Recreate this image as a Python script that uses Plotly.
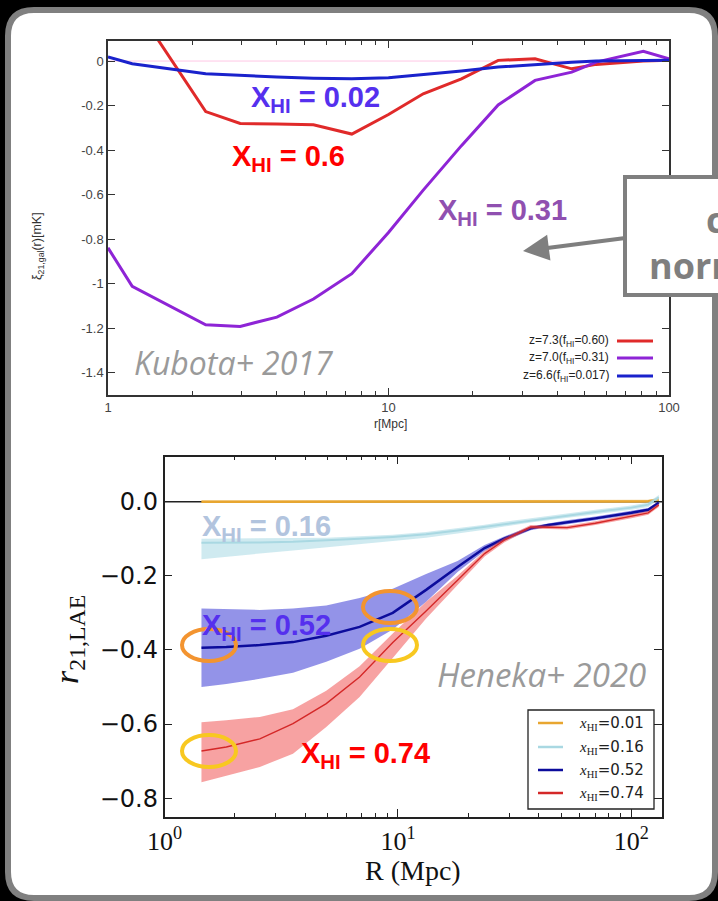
import plotly.graph_objects as go

W, H = 718, 901

# ---------------- Kubota+ 2017 : 21cm - LAE cross-correlation ----------------
r_kubota = [1.0, 1.22, 2.23, 2.96, 4.0, 5.4, 7.4, 10.0, 13.3, 18.2, 24.6, 33.3, 45.0, 55.0, 81.0, 100.0]
xi_z73 = [0.55, 0.27, -0.227, -0.280, -0.283, -0.286, -0.328, -0.240, -0.147, -0.080, 0.003, 0.010, -0.035, -0.015, 0.0, 0.003]
xi_z70 = [-0.839, -1.012, -1.185, -1.192, -1.150, -1.069, -0.955, -0.770, -0.580, -0.380, -0.197, -0.087, -0.050, -0.005, 0.044, 0.010]
xi_z66 = [0.018, -0.012, -0.057, -0.065, -0.072, -0.077, -0.080, -0.075, -0.062, -0.045, -0.027, -0.015, -0.005, 0.0, 0.002, 0.003]
kubota_labels = ["z=7.3(f<sub>HI</sub>=0.60)", "z=7.0(f<sub>HI</sub>=0.31)", "z=6.6(f<sub>HI</sub>=0.017)"]
kubota_colors = ["#e02a2a", "#8e24d6", "#1a22cc"]
kubota_yticks = [0, -0.2, -0.4, -0.6, -0.8, -1.0, -1.2, -1.4]
kubota_yticktext = ["0", "-0.2", "-0.4", "-0.6", "-0.8", "-1", "-1.2", "-1.4"]

# ---------------- Heneka+ 2020 : r_21,LAE with scatter bands ----------------
R_heneka = [1.44, 1.84, 2.56, 3.55, 4.93, 6.85, 9.5, 13.2, 18.0, 23.5, 28.5, 37.0, 44.0, 53.0, 70.0, 100.0, 118.0, 131.0]
r21_x001 = [0.0, 0.0, 0.0, 0.0, 0.0, 0.0, 0.0, 0.0, 0.0, 0.0, 0.0, 0.0, 0.0, 0.0, 0.0, 0.0, 0.001, 0.005]
r21_x001_hi = [0.003, 0.003, 0.003, 0.003, 0.003, 0.003, 0.003, 0.003, 0.003, 0.003, 0.003, 0.003, 0.003, 0.003, 0.003, 0.003, 0.005, 0.010]
r21_x001_lo = [-0.003, -0.003, -0.003, -0.003, -0.003, -0.003, -0.003, -0.003, -0.003, -0.003, -0.003, -0.003, -0.003, -0.003, -0.003, -0.003, -0.002, 0.001]

r21_x016 = [-0.111, -0.111, -0.110, -0.108, -0.105, -0.100, -0.095, -0.088, -0.078, -0.068, -0.060, -0.050, -0.044, -0.038, -0.028, -0.016, -0.008, 0.012]
r21_x016_hi = [-0.100, -0.100, -0.099, -0.098, -0.097, -0.093, -0.089, -0.082, -0.072, -0.062, -0.054, -0.044, -0.038, -0.032, -0.022, -0.010, -0.002, 0.018]
r21_x016_lo = [-0.155, -0.148, -0.140, -0.132, -0.124, -0.115, -0.106, -0.097, -0.086, -0.076, -0.067, -0.056, -0.050, -0.044, -0.034, -0.022, -0.014, 0.006]

r21_x052 = [-0.394, -0.392, -0.387, -0.379, -0.362, -0.338, -0.300, -0.238, -0.176, -0.125, -0.100, -0.072, -0.063, -0.055, -0.045, -0.030, -0.022, -0.003]
r21_x052_hi = [-0.288, -0.290, -0.292, -0.288, -0.280, -0.260, -0.235, -0.195, -0.160, -0.117, -0.094, -0.067, -0.058, -0.050, -0.040, -0.025, -0.017, 0.002]
r21_x052_lo = [-0.500, -0.492, -0.478, -0.462, -0.432, -0.397, -0.345, -0.270, -0.190, -0.133, -0.106, -0.077, -0.068, -0.060, -0.050, -0.035, -0.027, -0.008]

r21_x074 = [-0.673, -0.662, -0.640, -0.599, -0.545, -0.473, -0.380, -0.295, -0.212, -0.140, -0.104, -0.068, -0.069, -0.070, -0.058, -0.040, -0.030, -0.009]
r21_x074_hi = [-0.595, -0.590, -0.581, -0.560, -0.510, -0.444, -0.356, -0.270, -0.200, -0.133, -0.098, -0.063, -0.064, -0.065, -0.053, -0.035, -0.025, -0.004]
r21_x074_lo = [-0.757, -0.740, -0.716, -0.680, -0.608, -0.527, -0.422, -0.315, -0.225, -0.148, -0.110, -0.073, -0.074, -0.075, -0.063, -0.045, -0.035, -0.014]

heneka_labels = ["=0.01", "=0.16", "=0.52", "=0.74"]
heneka_line_colors = ["#e8a630", "#a9d8e2", "#0c0c9c", "#d42828"]
heneka_band_colors = ["rgba(232,166,48,0.5)", "rgba(168,216,228,0.55)", "rgba(40,40,210,0.5)", "rgba(240,70,70,0.5)"]
heneka_yticks = [0.0, -0.2, -0.4, -0.6, -0.8]
heneka_yticktext = ["0.0", "\u22120.2", "\u22120.4", "\u22120.6", "\u22120.8"]


def px(x):
    return x / W


def py(y):
    return 1 - y / H


def pp(x, y):
    return f"{px(x):.5f},{py(y):.5f}"


fig = go.Figure()

# top panel curves
for yv, col in zip([xi_z73, xi_z70, xi_z66], kubota_colors):
    fig.add_trace(go.Scatter(x=r_kubota, y=yv, mode="lines", xaxis="x", yaxis="y",
                             line=dict(color=col, width=3), hoverinfo="skip"))

# bottom panel bands + mean lines
series = [(r21_x001, r21_x001_hi, r21_x001_lo), (r21_x016, r21_x016_hi, r21_x016_lo),
          (r21_x052, r21_x052_hi, r21_x052_lo), (r21_x074, r21_x074_hi, r21_x074_lo)]
widths = [2.5, 2.0, 2.5, 1.4]
for (m, hi, lo), lc, bc, lw in zip(series, heneka_line_colors, heneka_band_colors, widths):
    fig.add_trace(go.Scatter(x=R_heneka + R_heneka[::-1], y=hi + lo[::-1], fill="toself",
                             fillcolor=bc, line=dict(width=0), mode="lines",
                             xaxis="x2", yaxis="y2", hoverinfo="skip"))
    fig.add_trace(go.Scatter(x=R_heneka, y=m, mode="lines", xaxis="x2", yaxis="y2",
                             line=dict(color=lc, width=lw), hoverinfo="skip"))

minor_log = [v * d for d in (1, 10, 100) for v in range(2, 10)]

fig.update_layout(
    width=W, height=H, autosize=False,
    margin=dict(l=0, r=0, t=0, b=0, pad=0, autoexpand=False),
    paper_bgcolor="black", plot_bgcolor="rgba(0,0,0,0)", showlegend=False,
    xaxis=dict(domain=[px(108), px(669)], type="log", range=[0, 2], anchor="y",
               showline=True, linecolor="#333", linewidth=1.5, mirror="ticks",
               ticks="inside", ticklen=7, tickwidth=1, tickcolor="#333",
               tickvals=[1, 10, 100], ticktext=["1", "10", "100"],
               tickfont=dict(family="Liberation Sans", size=13, color="#444"),
               showgrid=False, zeroline=False,
               minor=dict(tickvals=minor_log, ticks="inside", ticklen=4, tickcolor="#333")),
    yaxis=dict(domain=[py(395), py(41)], range=[-1.5, 0.09], anchor="x",
               showline=True, linecolor="#333", linewidth=1.5, mirror="ticks",
               ticks="inside", ticklen=7, tickcolor="#333",
               tickvals=kubota_yticks, ticktext=kubota_yticktext,
               tickfont=dict(family="Liberation Sans", size=13, color="#444"),
               showgrid=False, zeroline=False),
    xaxis2=dict(domain=[px(164.5), px(662)], type="log", range=[0, 2.131], anchor="y2",
                showline=True, linecolor="#222", linewidth=1.5, mirror="ticks",
                ticks="inside", ticklen=8, tickcolor="#222",
                tickvals=[1, 10, 100], ticktext=["10<sup>0</sup>", "10<sup>1</sup>", "10<sup>2</sup>"],
                tickfont=dict(family="Liberation Serif", size=26, color="#111"),
                showgrid=False, zeroline=False,
                minor=dict(tickvals=minor_log, ticks="inside", ticklen=4, tickcolor="#222")),
    yaxis2=dict(domain=[py(817), py(456.5)], range=[-0.851, 0.122], anchor="x2",
                showline=True, linecolor="#222", linewidth=1.5, mirror="ticks",
                ticks="inside", ticklen=8, tickcolor="#222",
                tickvals=heneka_yticks, ticktext=heneka_yticktext,
                tickfont=dict(family="DejaVu Sans", size=24, color="#111"),
                showgrid=False, zeroline=False),
)

shapes = []
# rounded white card
L, T, Rr, B, rad = 8, 10, 715, 898, 26
card = (f"M{pp(L + rad, T)} L{pp(Rr - rad, T)} Q{pp(Rr, T)} {pp(Rr, T + rad)} "
        f"L{pp(Rr, B - rad)} Q{pp(Rr, B)} {pp(Rr - rad, B)} L{pp(L + rad, B)} "
        f"Q{pp(L, B)} {pp(L, B - rad)} L{pp(L, T + rad)} Q{pp(L, T)} {pp(L + rad, T)} Z")
shapes.append(dict(type="path", path=card, xref="paper", yref="paper", layer="below",
                   fillcolor="white", line=dict(color="#808080", width=6)))
# faint zero line in the top panel
shapes.append(dict(type="line", xref="x domain", yref="y", x0=0, x1=1, y0=0, y1=0, layer="below",
                   line=dict(color="rgba(255,160,210,0.6)", width=1)))
# zero line in the bottom panel
shapes.append(dict(type="line", xref="x2 domain", yref="y2", x0=0, x1=1, y0=0, y1=0, layer="below",
                   line=dict(color="#222", width=1.5)))
# callout box
shapes.append(dict(type="rect", xref="paper", yref="paper", x0=px(625), x1=px(760), y0=py(295), y1=py(177),
                   layer="above", fillcolor="white", line=dict(color="#7f7f7f", width=4)))

# top legend samples
top_leg_y = [341, 358, 376]
for yy, col in zip(top_leg_y, kubota_colors):
    shapes.append(dict(type="line", xref="paper", yref="paper", x0=px(617), x1=px(653), y0=py(yy), y1=py(yy),
                       layer="above", line=dict(color=col, width=3)))

# bottom legend frame + samples
shapes.append(dict(type="rect", xref="paper", yref="paper", x0=px(528), x1=px(654), y0=py(809), y1=py(710),
                   layer="above", fillcolor="white", line=dict(color="#222", width=1.3)))
bot_leg_y = [723, 747, 770, 793]
for yy, col in zip(bot_leg_y, heneka_line_colors):
    shapes.append(dict(type="line", xref="paper", yref="paper", x0=px(538), x1=px(563), y0=py(yy), y1=py(yy),
                       layer="above", line=dict(color=col, width=2.5)))

# annotation ellipses
ellipses = [(209, 645, "#f39430"), (390, 607, "#f39430"), (390, 645, "#f8c820"), (209, 751, "#f8c820")]
for cx, cy, col in ellipses:
    shapes.append(dict(type="circle", xref="paper", yref="paper", x0=px(cx - 27), x1=px(cx + 27),
                       y0=py(cy + 16), y1=py(cy - 16), layer="above", line=dict(color=col, width=4)))

fig.update_layout(shapes=shapes)

ann = []


def text(x, y, s, size, color, family="Liberation Sans", xa="left", ya="middle", angle=0):
    ann.append(dict(x=px(x), y=py(y), xref="paper", yref="paper", text=s, showarrow=False,
                    xanchor=xa, yanchor=ya, textangle=angle, align=xa, borderpad=0,
                    font=dict(family=family, size=size, color=color)))


# axis titles
text(38, 246, "\u03be<sub>21,gal</sub>(r)[mK]", 12.5, "#333", xa="center", angle=-90)
text(390, 424, "r[Mpc]", 12, "#333", xa="center")
text(69, 640, "<i>r</i><sub>21,LAE</sub>", 34, "#111", family="Liberation Serif", xa="center", angle=-90)
text(413, 870, "R (Mpc)", 28, "#111", family="Liberation Serif", xa="center")

# top legend text
for yy, lab in zip(top_leg_y, kubota_labels):
    text(610, yy, lab, 12, "#222", xa="right")

# bottom legend text
for yy, lab in zip(bot_leg_y, heneka_labels):
    text(578, yy, "<span style=\"font-family:'Liberation Serif'\"><i>x</i><sub>HI</sub></span>" + lab,
         15, "#222", family="DejaVu Sans")

# paper credits
text(133, 362, "<i>Kubota+ 2017</i>", 32, "#9a9a9a", family="Open Sans")
text(436, 674, "<i>Heneka+ 2020</i>", 33, "#9a9a9a", family="Open Sans")

# neutral fraction labels
text(250, 99, "<b>X<sub>HI</sub> = 0.02</b>", 29, "#5530ee")
text(231, 158, "<b>X<sub>HI</sub> = 0.6</b>", 29, "#ff0000")
text(437, 212, "<b>X<sub>HI</sub> = 0.31</b>", 29, "#9050b0")
text(201, 528, "<b>X<sub>HI</sub> = 0.16</b>", 29, "#b2c4de")
text(201, 627, "<b>X<sub>HI</sub> = 0.52</b>", 29, "#5530ee")
text(300, 755, "<b>X<sub>HI</sub> = 0.74</b>", 29, "#ff0000")

# callout text (runs past the right edge)
text(705, 219, "<b>c</b>", 36, "#7f7f7f", family="Open Sans")
text(648, 265, "<b>norm</b>", 36, "#7f7f7f", family="Open Sans")

# callout arrow
ann.append(dict(x=px(523), y=py(251), xref="paper", yref="paper", text="", showarrow=True,
                ax=102, ay=-13, axref="pixel", ayref="pixel", arrowhead=2, arrowsize=1.3,
                arrowwidth=4, arrowcolor="#7f7f7f", standoff=0, startstandoff=0))

fig.update_layout(annotations=ann)

fig.write_html("out.html", config={"responsive": False, "displayModeBar": False},
               post_script="document.body.style.margin='0';document.body.style.overflow='hidden';")
